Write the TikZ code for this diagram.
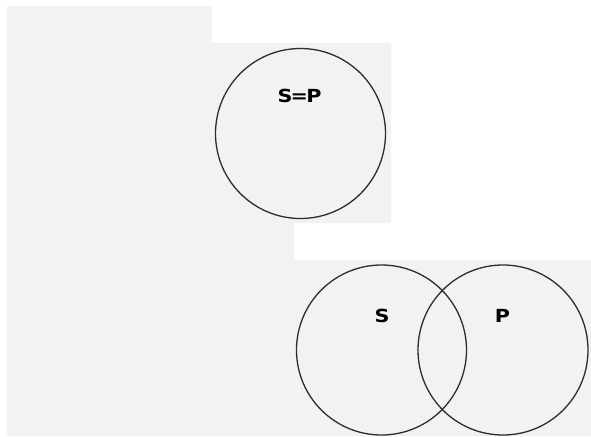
\documentclass[tikz,border=0pt]{standalone}
\usepackage{fontspec}
\setsansfont{DejaVu Sans}
\usetikzlibrary{positioning}
\definecolor{panel}{RGB}{242,242,242}
\definecolor{rim}{RGB}{45,45,45}
\tikzset{venn/.style={circle, draw=rim, line width=1.3pt, minimum size=170pt, inner sep=0pt}}
\tikzset{lbl/.style={font=\sffamily\bfseries\fontsize{18}{18}\selectfont, inner sep=0pt, xscale=1.15}}

\begin{document}
\begin{tikzpicture}[x=1pt, y=-1pt]
		\useasboundingbox (0,0) rectangle (591,436);
		% grey panels
		\fill[panel] (7,6) -- (212,6) -- (212,43) -- (391,43) -- (391,223) -- (294,223)
			-- (294,260) -- (591,260) -- (591,436) -- (7,436) -- cycle;
		
		\node[venn] (SP) at (300.5,133.5){};
		\node[lbl] (SPtxt) at (299.5,96){S\kern-1.5pt=\kern-1.5pt P};
		
		\node[venn] (S) at (381.5,350){};
		\node[venn] (P) at (503,350){};
		\node[lbl] (Stxt) at (382,315.5){S};
		\node[lbl] (Ptxt) at (502.5,315.5){P};
	\end{tikzpicture}
\end{document}
